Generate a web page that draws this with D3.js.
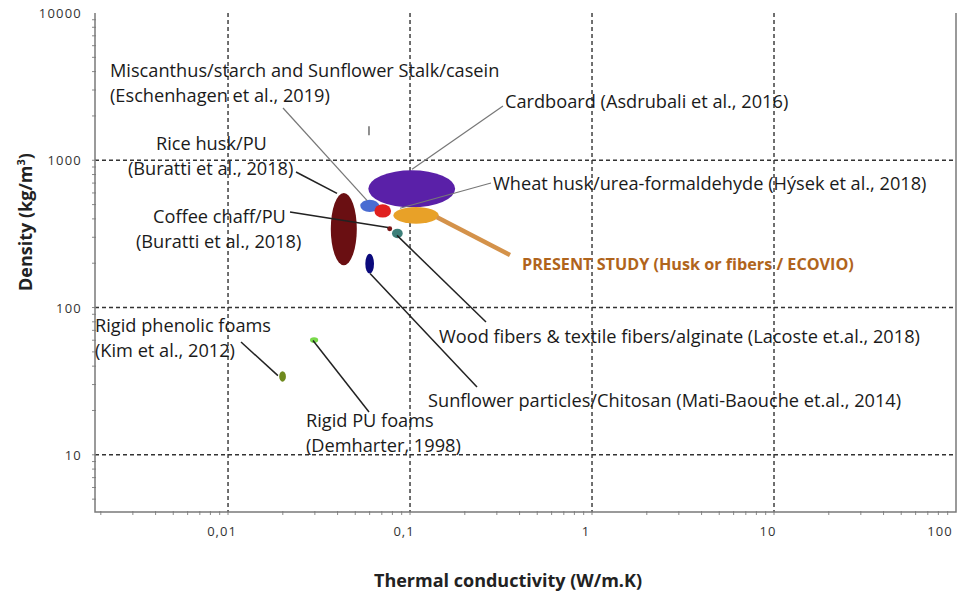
<html>
<head>
<script src="https://d3js.org/d3.v7.min.js"></script>
<style>
  body { margin: 0; background: #fff; }
  text { font-family: "Open Sans", sans-serif; }
</style>
</head>
<body>
<svg width="957" height="594"></svg>
<script>
// materials, ranges (k in W/m.K, rho in kg/m3)
var materials = ["Cardboard", "Rice husk/PU", "Miscanthus/starch", "Sunflower stalk/casein",
                 "Present study", "Coffee chaff/PU", "Wood & textile fibers/alginate",
                 "Sunflower particles/chitosan", "Rigid phenolic foams", "Rigid PU foams"];
var kMin   = [0.059, 0.0367, 0.0533, 0.0637, 0.081, 0.0749, 0.0796, 0.0568, 0.0191, 0.0282];
var kMax   = [0.177, 0.051,  0.0676, 0.0787, 0.1438, 0.0798, 0.0912, 0.0634, 0.0208, 0.0313];
var rhoMin = [479, 194, 445, 408, 371, 330, 296, 170, 31.4, 57.5];
var rhoMax = [855, 600, 540, 502, 481, 356, 343, 232, 36.9, 62.8];
var fills  = ["#5a20a8", "#6a0f12", "#4a6cd2", "#e0201f", "#e8a128", "#7a1414", "#3d7f79", "#0b0a7c", "#6f8a1e", "#78d94a"];

var xTicks = [0.01, 0.1, 1, 10, 100];
var xTickLabels = ["0,01", "0,1", "1", "10", "100"];
var yTicks = [10, 100, 1000, 10000];
var yTickLabels = ["10", "100", "1000", "10000"];

// annotation texts and the point each leader line points to
var noteText = [
  ["Miscanthus/starch and Sunflower Stalk/casein", "(Eschenhagen et al., 2019)"],
  ["Cardboard (Asdrubali et al., 2016)"],
  ["Wheat husk/urea-formaldehyde (Hýsek et al., 2018)"],
  ["Rice husk/PU", "(Buratti et al., 2018)"],
  ["Coffee chaff/PU", "(Buratti et al., 2018)"],
  ["Wood fibers & textile fibers/alginate (Lacoste et.al., 2018)"],
  ["Sunflower particles/Chitosan (Mati-Baouche et.al., 2014)"],
  ["Rigid phenolic foams", "(Kim et al., 2012)"],
  ["Rigid PU foams", "(Demharter, 1998)"],
  ["PRESENT STUDY (Husk or fibers / ECOVIO)"]
];
var noteK   = [0.058, 0.1026, 0.0881, 0.0397, 0.0757, 0.0848, 0.0603, 0.0188, 0.0293, 0.1407];
var noteRho = [534, 869, 472, 596, 350, 309, 170, 34.5, 59.7, 410];

// layout of the annotations (pixels): text position, leader start
var noteLayout = [
  {x: 110, y: 77,  lx: 283, ly: 108, c: "#777", w: 1.2},
  {x: 505, y: 108, lx: 503, ly: 106, c: "#777", w: 1.2},
  {x: 493, y: 190, lx: 491, ly: 183, c: "#777", w: 1.2},
  {x: 156, y: 150, x2: 128, lx: 296, ly: 172, c: "#222", w: 1.6},
  {x: 153, y: 223, x2: 136, lx: 290, ly: 212, c: "#222", w: 1.6},
  {x: 439, y: 343, lx: 486, ly: 322, c: "#222", w: 1.5},
  {x: 428, y: 407, lx: 477, ly: 387, c: "#222", w: 1.5},
  {x: 95,  y: 332, lx: 241, ly: 342, c: "#222", w: 1.5},
  {x: 306, y: 427, lx: 369, ly: 412, c: "#222", w: 1.5},
  {x: 522, y: 270, lx: 510, ly: 255, c: "#d4924a", w: 4.5}
];

var pL = 95, pR = 956, pT = 13, pB = 512;
var x = d3.scaleLog().domain([0.001858, 100]).range([pL, pR]);
var y = d3.scaleLog().domain([4.09, 10000]).range([pB, pT]);

var svg = d3.select("svg");

// grid
svg.append("g").selectAll("line").data(xTicks.slice(0, 4)).join("line")
  .attr("x1", d => x(d)).attr("x2", d => x(d)).attr("y1", pT).attr("y2", pB)
  .attr("stroke", "#333").attr("stroke-width", 1.4).attr("stroke-dasharray", "4,3");
svg.append("g").selectAll("line").data(yTicks.slice(0, 3)).join("line")
  .attr("y1", d => y(d)).attr("y2", d => y(d)).attr("x1", pL).attr("x2", pR)
  .attr("stroke", "#333").attr("stroke-width", 1.4).attr("stroke-dasharray", "4,3");

// minor ticks
var xMinor = [], yMinor = [];
[0.001, 0.01, 0.1, 1, 10].forEach(function(p) { for (var m = 1; m < 10; m++) { var v = p * m; if (v >= x.domain()[0] && v <= 100) xMinor.push(v); } });
[1, 10, 100, 1000].forEach(function(p) { for (var m = 1; m < 10; m++) { var v = p * m; if (v >= y.domain()[0]) yMinor.push(v); } });
svg.append("g").selectAll("line").data(xMinor).join("line")
  .attr("x1", d => x(d)).attr("x2", d => x(d)).attr("y1", pB - 1).attr("y2", pB + 3)
  .attr("stroke", "#888").attr("stroke-width", 1);
svg.append("g").selectAll("line").data(yMinor).join("line")
  .attr("y1", d => y(d)).attr("y2", d => y(d)).attr("x1", pL - 3).attr("x2", pL + 1)
  .attr("stroke", "#888").attr("stroke-width", 1);

// axes frame
svg.append("path").attr("d", "M" + pL + "," + pT + "V" + pB + "H" + pR + "V" + pT)
  .attr("fill", "none").attr("stroke", "#7a7a7a").attr("stroke-width", 1.5);

// tick labels
svg.append("g").selectAll("text").data(xTicks).join("text")
  .attr("x", (d, i) => x(d) - (i == 4 ? 16 : 6)).attr("y", 536)
  .attr("text-anchor", "middle").attr("font-size", 13).attr("letter-spacing", 1).attr("fill", "#333")
  .text((d, i) => xTickLabels[i]);
svg.append("g").selectAll("text").data(yTicks).join("text")
  .attr("x", 82).attr("y", d => y(d) + 5)
  .attr("text-anchor", "end").attr("font-size", 13).attr("letter-spacing", 1.2).attr("fill", "#333")
  .text((d, i) => yTickLabels[i]);

// axis titles
svg.append("text").attr("x", 508).attr("y", 587).attr("text-anchor", "middle")
  .attr("font-size", 18).attr("font-weight", "bold").attr("fill", "#222")
  .text("Thermal conductivity (W/m.K)");
var yt = svg.append("text").attr("transform", "translate(32,222) rotate(-90)").attr("text-anchor", "middle")
  .attr("font-size", 18).attr("font-weight", "bold").attr("fill", "#222");
yt.append("tspan").text("Density (kg/m");
yt.append("tspan").attr("font-size", 11).attr("dy", -7).text("3");
yt.append("tspan").attr("dy", 7).text(")");

// ellipses
var data = materials.map(function(m, i) {
  return {name: m, k0: kMin[i], k1: kMax[i], r0: rhoMin[i], r1: rhoMax[i], fill: fills[i]};
});
svg.append("g").selectAll("ellipse").data(data).join("ellipse")
  .attr("cx", d => (x(d.k0) + x(d.k1)) / 2)
  .attr("cy", d => (y(d.r0) + y(d.r1)) / 2)
  .attr("rx", d => (x(d.k1) - x(d.k0)) / 2)
  .attr("ry", d => (y(d.r0) - y(d.r1)) / 2)
  .attr("fill", d => d.fill);

// small stray bar above the cluster
svg.append("line").attr("x1", x(0.0595)).attr("x2", x(0.0595)).attr("y1", y(1700)).attr("y2", y(1480))
  .attr("stroke", "#555").attr("stroke-width", 1.3);

// leader lines
svg.append("g").selectAll("line").data(noteLayout).join("line")
  .attr("x1", d => d.lx).attr("y1", d => d.ly)
  .attr("x2", (d, i) => x(noteK[i])).attr("y2", (d, i) => y(noteRho[i]))
  .attr("stroke", d => d.c).attr("stroke-width", d => d.w);

// annotation texts
noteText.forEach(function(lines, i) {
  var L = noteLayout[i];
  var t = svg.append("text").attr("font-size", 18.2).attr("fill", i == 9 ? "#b0641c" : "#1a1a1a");
  if (i == 9) t.attr("font-weight", "bold").attr("font-size", 16.2);
  lines.forEach(function(s, j) {
    t.append("tspan").attr("x", j == 1 && L.x2 ? L.x2 : L.x).attr("y", L.y + j * 25).text(s);
  });
});
</script>
</body>
</html>
